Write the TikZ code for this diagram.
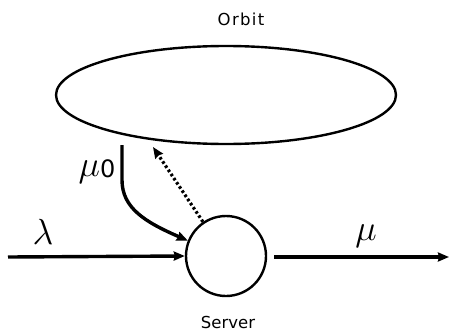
\documentclass[tikz,border=0pt]{standalone}
\usepackage{fontspec}
\newfontfamily\labelfont{DejaVu Sans}
\usetikzlibrary{arrows.meta,shapes.geometric}
\tikzset{
  flow/.style={line width=3.4pt, -{Stealth[length=11pt,width=9pt,inset=1pt]}},
  dotflow/.style={line width=3.2pt, dash pattern=on 2.6pt off 2.4pt, -{Stealth[length=11pt,width=9pt,inset=1pt]}},
  shapeline/.style={draw, line width=2.4pt},
  lbl/.style={font=\labelfont\fontsize{16.5}{18}\selectfont, inner sep=0pt},
  greek/.style={font=\fontsize{20}{22}\selectfont, inner sep=0pt}
}
\newcommand{\bigsym}[1]{\scalebox{1.75}{#1}}
\begin{document}
\begin{tikzpicture}[x=1pt,y=-1pt]
\useasboundingbox (0,0) rectangle (449,332);
\node[shapeline, ellipse, minimum width=340pt, minimum height=98pt, inner sep=0pt] (orbit) at (226,95) {};
\node[shapeline, circle, minimum size=80pt, inner sep=0pt] (server) at (226,256) {};
\node[lbl] (orbitlbl) at (241,19) {\addfontfeature{LetterSpace=8}Orbit};
\node[lbl] (serverlbl) at (228,322) {Server};
\coordinate (in) at (8,257);
\coordinate (outstart) at (274,257);
\coordinate (out) at (449,257);
\coordinate (fb) at (122,145);
\coordinate (ret) at (153,147);
\draw[flow] (in) -- (server.west);
\draw[flow] (outstart) -- (out);
\draw[flow] (fb) -- (122,180) .. controls (122,208) and (145,222) .. (server.158);
\draw[dotflow] (server.124) -- (ret);
\node[greek] (lam) at (43,232) {\bigsym{$\lambda$}};
\node[greek] (mu) at (366,236) {\bigsym{$\mu$}};
\node[greek] (mu0) at (97,172) {\bigsym{$\mu$}\raisebox{-1pt}{\labelfont\fontsize{24}{26}\selectfont 0}};
\end{tikzpicture}
\end{document}
